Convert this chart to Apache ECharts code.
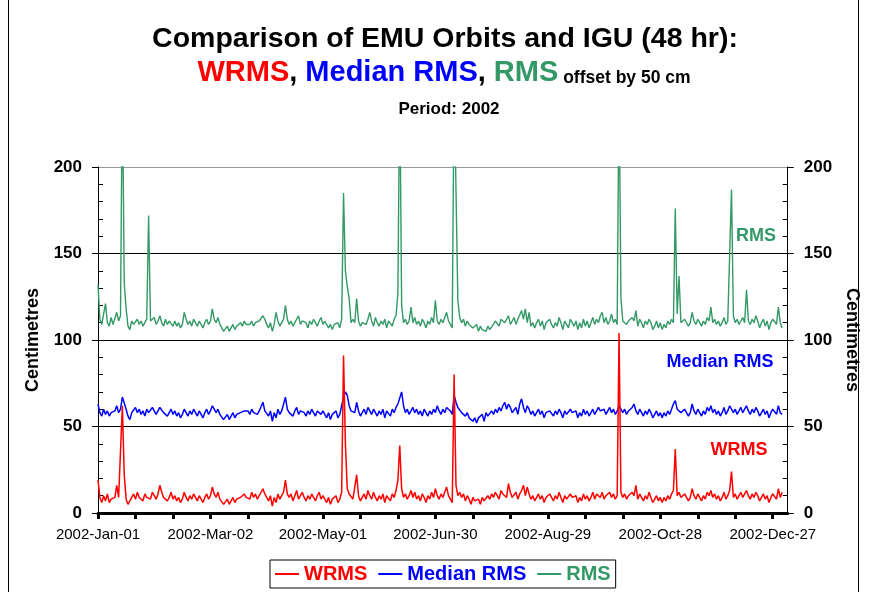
<!DOCTYPE html>
<html>
<head>
<meta charset="utf-8">
<script src="https://cdn.jsdelivr.net/npm/echarts/dist/echarts.min.js"></script>
<style>
html, body { margin: 0; padding: 0; background: #fff; }
#main { width: 869px; height: 592px; }
</style>
</head>
<body>
<div id="main"></div>
<script>
// x axis labels, one every 60 days from 2002-Jan-01
var dateLabels = ['2002-Jan-01', '2002-Mar-02', '2002-May-01', '2002-Jun-30', '2002-Aug-29', '2002-Oct-28', '2002-Dec-27'];
var labelDays = [0, 60, 120, 180, 240, 300, 360];

// daily values in cm (day 0 = 2002-Jan-01)
var wrms = [
    19, 9, 6, 10, 7, 11, 6, 8, 7, 9, 16, 9, 10, 62, 22, 8, 5, 7, 9, 11,
    8, 12, 9, 10, 7, 11, 9, 10, 8, 12, 10, 8, 11, 16, 12, 9, 10, 7, 9, 12,
    8, 10, 7, 9, 6, 8, 12, 9, 7, 10, 8, 11, 9, 7, 10, 8, 6, 9, 11, 8,
    10, 15, 11, 9, 12, 8, 7, 5, 6, 8, 5, 7, 9, 6, 8, 7, 9, 8, 11, 9,
    10, 8, 12, 9, 11, 8, 10, 12, 14, 11, 9, 7, 10, 4, 9, 6, 11, 8, 10, 12,
    19, 11, 9, 11, 7, 10, 13, 8, 10, 12, 9, 7, 10, 8, 11, 9, 7, 10, 12, 8,
    10, 9, 6, 9, 5, 8, 7, 10, 6, 8, 12, 91, 40, 14, 11, 12, 8, 9, 22, 10,
    7, 9, 11, 8, 13, 10, 8, 12, 9, 7, 10, 8, 11, 6, 10, 9, 7, 11, 9, 13,
    19, 39, 14, 9, 11, 8, 10, 13, 9, 12, 8, 10, 7, 11, 9, 6, 10, 8, 12, 9,
    14, 10, 8, 11, 9, 12, 15, 10, 8, 6, 80, 16, 10, 12, 9, 11, 7, 10, 8, 5,
    9, 7, 6, 8, 5, 9, 7, 6, 10, 8, 11, 9, 12, 10, 8, 13, 11, 12, 9, 17,
    12, 9, 10, 12, 8, 11, 13, 16, 10, 15, 11, 8, 10, 7, 9, 11, 8, 10, 6, 9,
    8, 11, 9, 7, 10, 8, 12, 9, 6, 10, 8, 7, 11, 9, 8, 10, 6, 9, 7, 11,
    8, 10, 7, 9, 12, 8, 11, 10, 9, 12, 8, 10, 9, 12, 9, 11, 8, 10, 104, 12,
    9, 11, 8, 10, 9, 12, 10, 16, 8, 11, 9, 7, 10, 8, 12, 9, 6, 8, 10, 7,
    9, 6, 9, 7, 10, 8, 11, 13, 37, 10, 12, 9, 8, 11, 10, 7, 9, 14, 10, 8,
    11, 9, 7, 10, 8, 12, 10, 13, 9, 11, 8, 10, 7, 9, 12, 8, 10, 13, 24, 9,
    11, 8, 10, 12, 9, 11, 13, 10, 8, 11, 9, 12, 10, 7, 9, 11, 8, 10, 6, 9,
    11, 10, 8, 14, 9, 12
];
var medianRms = [
    13, 8, 6, 10, 7, 9, 6, 8, 7, 9, 12, 8, 10, 17, 16, 10, 6, 4, 8, 7,
    11, 8, 10, 7, 9, 6, 10, 8, 7, 11, 9, 7, 9, 11, 10, 8, 9, 6, 8, 10,
    7, 9, 6, 8, 5, 7, 10, 8, 6, 9, 7, 10, 8, 6, 9, 7, 5, 8, 10, 7,
    9, 12, 10, 8, 10, 7, 6, 4, 5, 7, 4, 6, 8, 5, 7, 6, 8, 7, 9, 8,
    9, 7, 10, 8, 9, 7, 9, 10, 14, 9, 8, 6, 9, 3, 8, 5, 10, 7, 9, 10,
    17, 10, 8, 9, 6, 9, 11, 7, 9, 10, 8, 6, 9, 7, 10, 8, 6, 9, 10, 7,
    9, 8, 5, 8, 4, 7, 6, 9, 5, 7, 8, 17, 20, 18, 12, 9, 10, 8, 14, 9,
    6, 8, 10, 7, 11, 9, 7, 10, 8, 6, 9, 7, 10, 5, 9, 8, 6, 10, 8, 11,
    13, 14, 20, 12, 8, 10, 7, 9, 11, 8, 10, 7, 9, 6, 10, 8, 6, 9, 7, 10,
    8, 12, 9, 7, 10, 8, 11, 12, 9, 7, 18, 14, 11, 10, 8, 9, 6, 8, 5, 4,
    3, 5, 2, 5, 4, 7, 3, 8, 6, 5, 9, 7, 10, 8, 11, 9, 12, 14, 10, 13,
    11, 8, 9, 11, 7, 13, 16, 11, 8, 12, 10, 7, 9, 6, 8, 10, 7, 9, 5, 8,
    7, 9, 8, 6, 9, 7, 10, 8, 5, 9, 7, 6, 10, 8, 7, 9, 5, 8, 6, 10,
    7, 9, 6, 8, 10, 7, 9, 11, 9, 8, 10, 7, 9, 11, 8, 10, 7, 9, 12, 10,
    8, 10, 7, 9, 8, 11, 13, 9, 7, 10, 8, 6, 9, 7, 10, 8, 5, 7, 9, 6,
    8, 5, 8, 6, 9, 7, 10, 13, 15, 10, 11, 8, 7, 10, 9, 6, 8, 13, 9, 7,
    10, 8, 6, 9, 7, 11, 9, 12, 8, 10, 7, 9, 6, 8, 11, 7, 9, 12, 10, 8,
    10, 7, 9, 11, 8, 10, 12, 9, 7, 10, 8, 11, 9, 6, 8, 10, 7, 9, 5, 8,
    10, 9, 7, 12, 8, 7
];
var rms = [
    32, 12, 9, 8, 21, 10, 8, 13, 9, 10, 16, 11, 14, 150, 33, 18, 8, 6, 11, 9,
    10, 12, 9, 11, 8, 10, 12, 72, 11, 10, 13, 9, 11, 14, 10, 8, 12, 9, 11, 10,
    8, 11, 8, 10, 7, 9, 16, 12, 9, 11, 8, 12, 10, 8, 11, 9, 7, 10, 12, 9,
    11, 18, 12, 10, 13, 9, 7, 5, 6, 8, 5, 7, 9, 6, 8, 7, 10, 8, 11, 9,
    10, 9, 11, 8, 10, 9, 11, 12, 14, 12, 9, 7, 10, 5, 9, 16, 11, 8, 10, 12,
    20, 12, 9, 11, 8, 10, 9, 14, 9, 11, 12, 10, 7, 11, 9, 12, 10, 8, 11, 13,
    9, 11, 10, 7, 9, 6, 9, 8, 10, 7, 12, 85, 40, 31, 24, 10, 12, 10, 24, 11,
    8, 10, 11, 9, 12, 16, 11, 8, 13, 10, 8, 11, 9, 12, 7, 11, 10, 8, 12, 14,
    27, 150, 20, 10, 12, 9, 11, 19, 10, 13, 9, 11, 8, 12, 10, 7, 11, 9, 13, 10,
    23, 11, 9, 12, 10, 13, 16, 11, 9, 7, 150, 150, 23, 13, 10, 12, 8, 11, 9, 10,
    7, 6, 9, 5, 8, 6, 7, 5, 8, 6, 7, 9, 11, 10, 8, 12, 11, 10, 12, 14,
    9, 11, 13, 9, 12, 11, 17, 12, 18, 10, 16, 8, 10, 7, 10, 12, 8, 11, 6, 10,
    9, 12, 9, 7, 10, 8, 13, 10, 6, 11, 9, 7, 12, 10, 8, 11, 6, 10, 7, 12,
    8, 11, 7, 10, 13, 9, 12, 10, 14, 16, 10, 13, 9, 11, 15, 10, 12, 9, 150, 24,
    11, 12, 9, 11, 10, 13, 11, 17, 8, 12, 10, 7, 11, 9, 12, 10, 6, 8, 11, 7,
    10, 6, 9, 7, 11, 9, 12, 10, 76, 15, 37, 10, 9, 12, 11, 8, 10, 16, 11, 9,
    12, 10, 8, 11, 9, 13, 11, 19, 10, 12, 9, 11, 8, 10, 13, 9, 11, 10, 87, 14,
    10, 12, 9, 11, 13, 10, 29, 11, 9, 12, 10, 14, 11, 7, 10, 12, 8, 11, 6, 10,
    12, 11, 9, 19, 10, 7
];
// each series is drawn offset by 50 cm
var offsets = { wrms: 0, medianRms: 50, rms: 100 };

var FONT = '"Liberation Sans", Arial, sans-serif';
var RED = '#ff0000', BLUE = '#0000ff', GREEN = '#339966';

function points(arr, off) {
    return arr.map(function (v, i) { return [i, v + off]; });
}
var tickDays = [];
for (var d = 0; d <= 360; d += 20) tickDays.push(d);

var myChart = echarts.init(document.getElementById('main'));

function yAxis(pos, nameGap, nameRotate) {
    return {
        type: 'value', position: pos, min: 0, max: 200, interval: 50,
        axisLine: { show: true, onZero: false, lineStyle: { color: '#000', width: 1 } },
        axisTick: { show: true, length: 6, lineStyle: { color: '#000' } },
        minorTick: { show: true, splitNumber: 5, length: -5, lineStyle: { color: '#000' } },
        splitLine: { show: pos === 'left', lineStyle: { color: ['#000', '#000', '#000', '#000', '#999'], width: 1 } },
        axisLabel: { fontSize: 17, fontWeight: 'bold', color: '#000', fontFamily: FONT, margin: 16 },
        name: 'Centimetres', nameLocation: 'middle', nameGap: nameGap, nameRotate: nameRotate,
        nameTextStyle: { fontSize: 18, fontWeight: 'bold', color: '#000', fontFamily: FONT }
    };
}

var big = { fontSize: 29, fontWeight: 'bold', fontFamily: FONT, verticalAlign: 'bottom', lineHeight: 32 };
function bigStyle(color) { return Object.assign({ fill: color }, big); }

option = {
    animation: false,
    backgroundColor: '#fff',
    grid: { left: 98, right: 79, top: 167, bottom: 79 },
    xAxis: {
        type: 'value', min: 0, max: 368, interval: 20,
        axisLine: { onZero: false, lineStyle: { color: '#000', width: 3 } },
        axisTick: { show: true, customValues: tickDays, length: 6, lineStyle: { color: '#000', width: 3 } },
        splitLine: { show: false },
        axisLabel: {
            customValues: labelDays, margin: 14, fontSize: 15, color: '#000', fontFamily: FONT,
            formatter: function (v) { return dateLabels[Math.round(v / 60)] || ''; }
        }
    },
    yAxis: [yAxis('left', 56, 90), yAxis('right', 52, -90)],
    legend: {
        left: 270, top: 560, padding: [4, 5], itemGap: 11, itemWidth: 24, itemHeight: 2, icon: 'rect',
        borderColor: '#000', borderWidth: 1,
        data: [
            { name: 'WRMS', textStyle: { color: RED } },
            { name: 'Median RMS', textStyle: { color: BLUE } },
            { name: 'RMS', textStyle: { color: GREEN } }
        ],
        textStyle: { fontSize: 20, fontWeight: 'bold', fontFamily: FONT }
    },
    series: [
        { name: 'RMS', type: 'line', symbol: 'none', z: 2, data: points(rms, offsets.rms),
          lineStyle: { color: GREEN, width: 1.4 }, itemStyle: { color: GREEN } },
        { name: 'Median RMS', type: 'line', symbol: 'none', z: 3, data: points(medianRms, offsets.medianRms),
          lineStyle: { color: BLUE, width: 1.5 }, itemStyle: { color: BLUE } },
        { name: 'WRMS', type: 'line', symbol: 'none', z: 4, data: points(wrms, offsets.wrms),
          lineStyle: { color: RED, width: 1.5 }, itemStyle: { color: RED } }
    ],
    graphic: [
        { type: 'line', shape: { x1: 8.5, y1: 0, x2: 8.5, y2: 592 }, style: { stroke: '#000', lineWidth: 1 } },
        { type: 'line', shape: { x1: 858.5, y1: 0, x2: 858.5, y2: 592 }, style: { stroke: '#000', lineWidth: 1 } },
        { type: 'text', x: 445, y: 39, style: {
            text: 'Comparison of EMU Orbits and IGU (48 hr):', fill: '#000',
            fontSize: 28.5, fontWeight: 'bold', fontFamily: FONT, align: 'center', verticalAlign: 'middle' } },
        { type: 'text', x: 444, y: 71, style: {
            text: '{r|WRMS}{k|, }{b|Median RMS}{k|, }{g|RMS}{s| offset by 50 cm}',
            align: 'center', verticalAlign: 'middle',
            rich: {
                r: bigStyle(RED), k: bigStyle('#000'), b: bigStyle(BLUE), g: bigStyle(GREEN),
                s: { fill: '#000', fontSize: 17.5, fontWeight: 'bold', fontFamily: FONT, verticalAlign: 'bottom', lineHeight: 32 }
            } } },
        { type: 'text', x: 449, y: 109, style: {
            text: 'Period: 2002', fill: '#000', fontSize: 17, fontWeight: 'bold', fontFamily: FONT,
            align: 'center', verticalAlign: 'middle' } },
        { type: 'text', x: 756, y: 236, style: {
            text: 'RMS', fill: GREEN, fontSize: 18, fontWeight: 'bold', fontFamily: FONT,
            align: 'center', verticalAlign: 'middle' } },
        { type: 'text', x: 720, y: 362, style: {
            text: 'Median RMS', fill: BLUE, fontSize: 18, fontWeight: 'bold', fontFamily: FONT,
            align: 'center', verticalAlign: 'middle' } },
        { type: 'text', x: 739, y: 450, style: {
            text: 'WRMS', fill: RED, fontSize: 18, fontWeight: 'bold', fontFamily: FONT,
            align: 'center', verticalAlign: 'middle' } }
    ]
};
myChart.setOption(option, true);

window.onresize = function () {
    myChart.resize();
};
</script>
</body>
</html>
